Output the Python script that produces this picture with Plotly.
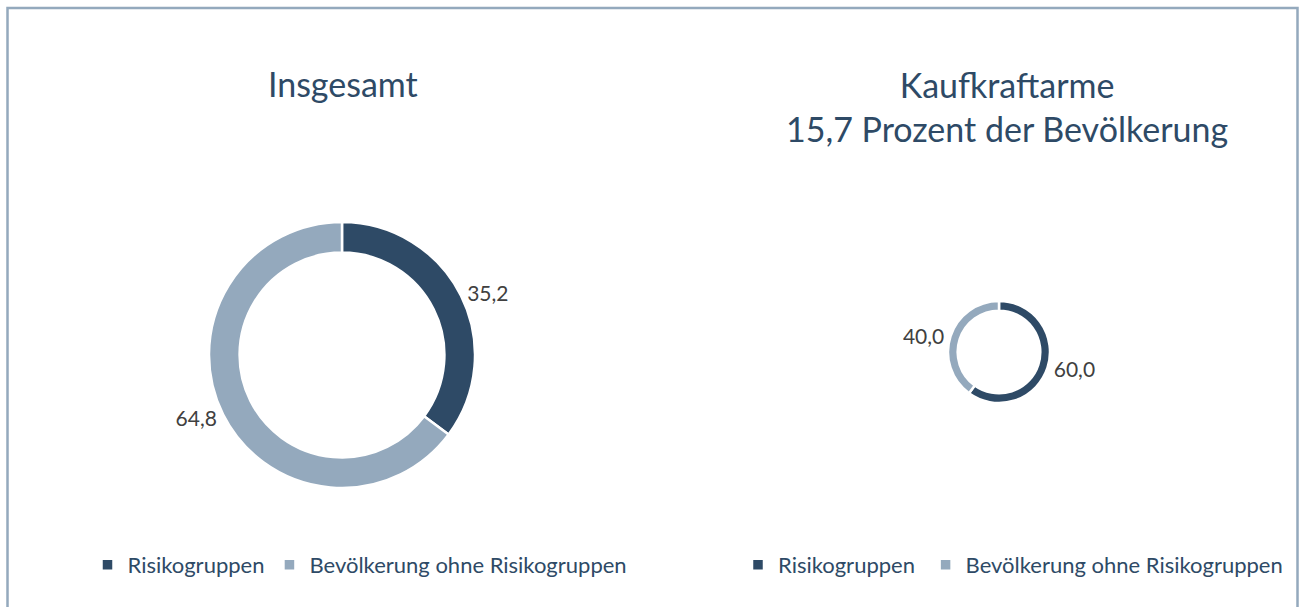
import plotly.graph_objects as go

# ---- data ----
categories = ["Risikogruppen", "Bevölkerung ohne Risikogruppen"]
values_total = [35.2, 64.8]
values_poor = [60.0, 40.0]
title_total = "Insgesamt"
title_poor = "Kaufkraftarme<br>15,7 Prozent der Bevölkerung"

colors = ["#2E4A66", "#94A9BD"]
text_blue = "#2E4A66"
label_gray = "#404040"
W, H = 1300, 607
FONT = "Lato"


def fmt(v):
    return f"{v:.1f}".replace(".", ",")


def dom(cx, cy, r):
    return dict(x=[(cx - r) / W, (cx + r) / W],
                y=[(H - cy - r) / H, (H - cy + r) / H])


fig = go.Figure()
fig.add_trace(go.Pie(
    labels=categories, values=values_total,
    text=[fmt(v) for v in values_total], textinfo="text",
    textposition="outside", sort=False, direction="clockwise", rotation=0,
    hole=0.77, marker=dict(colors=colors, line=dict(color="white", width=2.5)),
    textfont=dict(family=FONT, size=21, color=label_gray),
    domain=dom(342, 355, 133), legend="legend", showlegend=True,
))
# second pie: labels carry a trailing space so its legend entries are kept separately
fig.add_trace(go.Pie(
    labels=[c + " " for c in categories], values=values_poor,
    text=[fmt(v) for v in values_poor], textinfo="text",
    textposition="outside", sort=False, direction="clockwise", rotation=0,
    hole=0.81, marker=dict(colors=colors, line=dict(color="white", width=2.5)),
    textfont=dict(family=FONT, size=21, color=label_gray),
    domain=dom(999, 352, 51), legend="legend2", showlegend=True,
))

fig.add_annotation(text=title_total, x=343 / W, y=(H - 83) / H,
                   xref="paper", yref="paper", showarrow=False,
                   xanchor="center", yanchor="middle",
                   font=dict(family=FONT, size=34, color=text_blue))
fig.add_annotation(text=title_poor, x=1007 / W, y=(H - 107) / H,
                   xref="paper", yref="paper", showarrow=False,
                   xanchor="center", yanchor="middle",
                   font=dict(family=FONT, size=34, color=text_blue))

leg_common = dict(orientation="h", xanchor="center", yanchor="middle",
                  font=dict(family=FONT, size=22, color=text_blue),
                  bgcolor="rgba(0,0,0,0)", itemclick=False)
fig.update_layout(
    width=W, height=H,
    margin=dict(l=0, r=0, t=0, b=0),
    paper_bgcolor="white", plot_bgcolor="white",
    legend=dict(x=360 / W, y=(H - 565) / H, **leg_common),
    legend2=dict(x=1016 / W, y=(H - 565) / H, **leg_common),
    shapes=[dict(type="rect", xref="paper", yref="paper",
                 x0=7.5 / W, x1=1297.5 / W, y0=-0.02, y1=(H - 8) / H,
                 line=dict(color="#94A9BD", width=2.5), fillcolor="rgba(0,0,0,0)")],
)

fig.write_html("out.html", config={"displayModeBar": False},
               post_script="document.body.style.margin='0px';document.body.style.overflow='hidden';")
